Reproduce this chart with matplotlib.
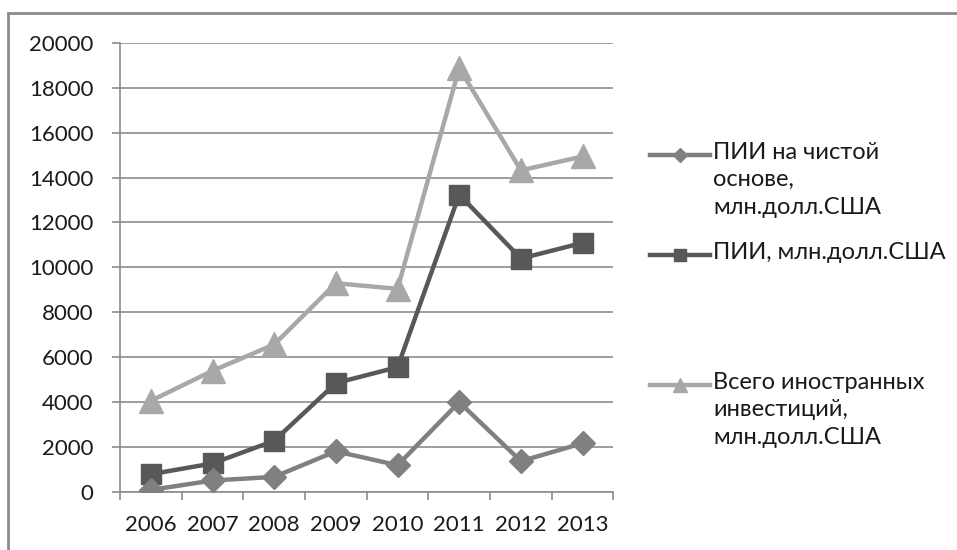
import matplotlib.pyplot as plt
from matplotlib.lines import Line2D
from matplotlib.patches import Rectangle

plt.rcParams['font.family'] = ['Lato', 'DejaVu Sans']

years = ['2006', '2007', '2008', '2009', '2010', '2011', '2012', '2013']
pii_net = [80, 500, 660, 1800, 1180, 3990, 1360, 2160]
pii = [780, 1260, 2270, 4840, 5550, 13240, 10390, 11090]
total = [4050, 5390, 6560, 9290, 9040, 18880, 14320, 14940]

labels = ['ПИИ на чистой\nоснове,\nмлн.долл.США',
          'ПИИ, млн.долл.США',
          'Всего иностранных\nинвестиций,\nмлн.долл.США']
colors = ['#808080', '#585858', '#a8a8a8']
markers = ['D', 's', '^']
msizes = [12.5, 15, 17]

fig = plt.figure(figsize=(9.57, 5.5), dpi=100)
ax = fig.add_axes([0.1254, 0.106, 0.5156, 0.816])

x = list(range(len(years)))
series = [pii_net, pii, total]
# draw light one first so the darker lines lie on top
for i in [2, 1, 0]:
    ax.plot(x, series[i], color=colors[i], lw=3.2, marker=markers[i],
            ms=msizes[i], zorder=3 + (2 - i))

ax.set_xlim(-0.5, len(years) - 0.5)
ax.set_ylim(0, 20000)
ax.set_yticks(range(0, 20001, 2000))
ax.set_xticks(x)
ax.set_xticklabels(years)
ax.set_xticks([v - 0.5 for v in range(len(years) + 1)], minor=True)
ax.tick_params(axis='x', which='major', length=0, pad=17, labelsize=16, colors='#1a1a1a')
ax.tick_params(axis='x', which='minor', length=6, width=1.2, color='#8c8c8c')
ax.tick_params(axis='y', length=6, width=1.2, color='#8c8c8c', labelsize=16,
               labelcolor='#1a1a1a', pad=13)
ax.grid(axis='y', color='#8c8c8c', lw=1.2)
ax.set_axisbelow(True)
for s in ['top', 'right']:
    ax.spines[s].set_visible(False)
for s in ['left', 'bottom']:
    ax.spines[s].set_color('#8c8c8c')
    ax.spines[s].set_linewidth(1.2)

# outer frame of the chart
fig.patches.append(Rectangle((8 / 957, -0.2), 1.2, 1 - 13 / 550 + 0.2,
                             transform=fig.transFigure, fill=False,
                             edgecolor='#8a8a8a', lw=2))

# legend drawn by hand: marker sits on the first text line
leg_y = [155, 255, 385]
for i in range(3):
    yf = 1 - leg_y[i] / 550
    fig.add_artist(Line2D([650 / 957, 710 / 957], [yf, yf], transform=fig.transFigure,
                          color=colors[i], lw=3.2))
    fig.add_artist(Line2D([680 / 957], [yf], transform=fig.transFigure,
                          color=colors[i], marker=markers[i], ms=msizes[i] * 0.6, lw=0))
    fig.text(713 / 957, yf + 13 / 550, labels[i], fontsize=17, color='#1a1a1a',
             va='top', ha='left', linespacing=1.37, transform=fig.transFigure)

fig.savefig('out.png', dpi=100, facecolor='white')
